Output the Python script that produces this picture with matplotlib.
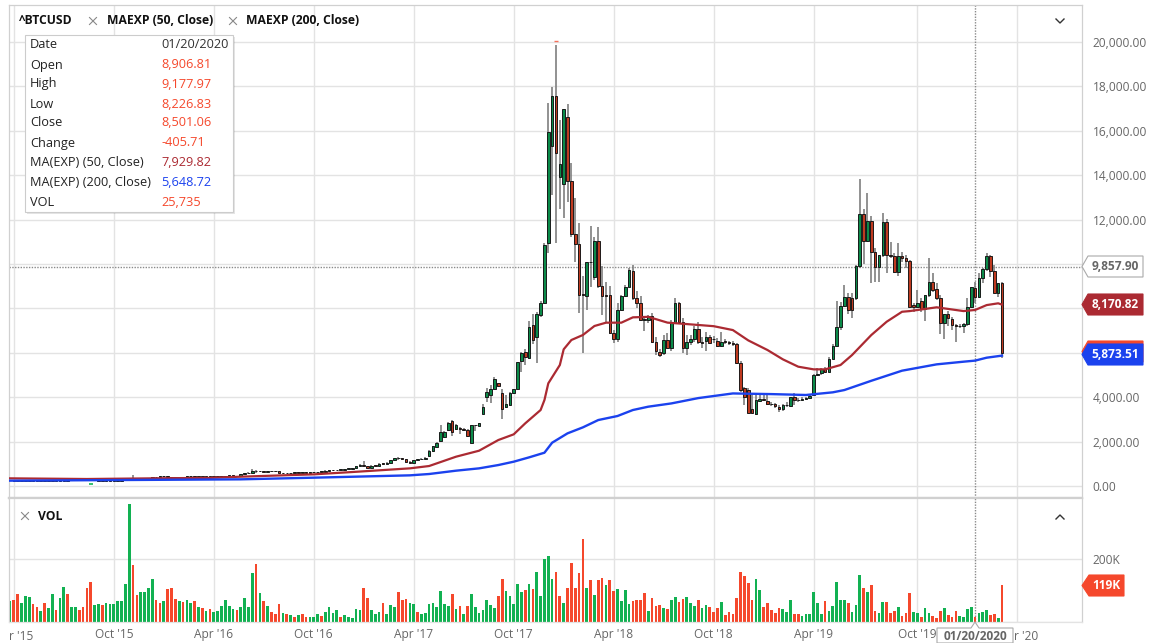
from matplotlib import pyplot as plt
from matplotlib.patches import Polygon, Rectangle
import numpy as np

plt.rcParams['font.family'] = ['Open Sans', 'DejaVu Sans']

opens = [248, 255, 235, 225, 225, 240, 236, 241, 240, 236, 236, 232, 225, 226, 236, 245, 250, 268, 288, 272,
         292, 285, 280, 265, 230, 225, 233, 230, 238, 245, 262, 290, 325, 375, 335, 325, 328, 362, 395, 415,
         435, 450, 385, 382, 390, 375, 405, 430, 438, 416, 410, 415, 415, 416, 418, 420, 425, 450, 460, 455,
         440, 525, 575, 590, 690, 660, 670, 650, 660, 665, 660, 590, 570, 585, 575, 610, 605, 610, 605, 610,
         625, 640, 650, 695, 700, 705, 735, 735, 770, 780, 790, 890, 960, 900, 820, 920, 915, 1010, 1000, 1050,
         1180, 1260,
         1240, 1200, 1095, 1035, 1170, 1200, 1230, 1366, 1560, 1770,
         2040, 2200, 2520, 2940, 2550, 2610, 2570, 2520, 1950, 2730,
         2720, 3250, 4030, 4100, 4350, 4620, 4200, 3540, 3630, 4180,
         4380, 5620, 6050, 5750, 7250, 6700, 7700, 8250, 10930, 15320,
         17580, 13900, 13600, 16640, 13740, 11350, 10900, 8660, 8570, 10100,
         9430, 11050, 9000, 8600, 8600, 6880, 6600, 7930, 8560, 8980,
         9700, 8450, 8230, 7480, 7480, 7660, 6500, 6050, 5970, 6570,
         6200, 7350, 8260, 7400, 6200, 6500, 6600, 7060, 6500, 6540,
         6690, 6600, 6540, 6300, 6540, 6500, 6450, 6400, 5550, 4400,
         4320, 3450, 3240, 3850, 3900, 3840, 3700, 3680, 3570, 3450,
         3630, 3600, 4000, 3870, 3880, 3920, 3980, 4080, 5015, 5080,
         5270, 5150, 5720, 6320, 7150, 8110, 8500, 8450, 8450, 9925,
         12240, 11050, 11940, 10530, 9850, 10390, 11910, 10400, 10360, 9650,
         10360, 10290, 10150, 8150, 8080, 8350, 7960, 8600, 9200, 8860,
         8450, 7360, 7750, 7520, 7250, 7200, 7230, 7280, 8050, 8906.81,
         8500, 9380, 9760, 10360, 9690, 8710, 9130]

highs = [262, 258, 240, 240, 245, 245, 245, 245, 245, 240, 238, 236, 232, 240, 250, 258, 272, 295, 295, 298,
         298, 290, 285, 268, 240, 240, 240, 242, 250, 268, 296, 335, 495, 380, 342, 335, 365, 398, 420, 460,
         465, 455, 395, 405, 395, 410, 440, 445, 440, 425, 420, 422, 422, 425, 428, 432, 455, 470, 470, 460,
         530, 590, 610, 780, 720, 690, 680, 675, 680, 675, 660, 600, 590, 600, 615, 615, 620, 615, 615, 630,
         645, 660, 700, 740, 715, 740, 745, 780, 785, 800, 895, 980, 1130, 905, 935, 925, 1015, 1030, 1060, 1190,
         1280, 1290,
         1250, 1210, 1120, 1190, 1220, 1250, 1290, 1610, 1820, 1970,
         2730, 2470, 2890, 2970, 2780, 2640, 2600, 2560, 2760, 2770,
         2830, 3700, 4400, 4550, 4900, 4640, 4350, 4100, 4230, 4370,
         5600, 6050, 6150, 7450, 7770, 7850, 8350, 10930, 17270, 17960,
         19870, 16490, 16970, 17200, 14530, 12960, 11830, 9460, 10100, 11720,
         11200, 11650, 9900, 9200, 9000, 7050, 8230, 8600, 9050, 9800,
         9950, 8800, 8570, 7600, 7720, 7800, 6700, 6150, 6800, 6900,
         7500, 8480, 8300, 7550, 6800, 6800, 7200, 7400, 6700, 6950,
         6800, 6750, 6680, 6950, 6600, 6550, 6550, 6450, 5620, 4450,
         4400, 4200, 4200, 4170, 4150, 4100, 3800, 3720, 3650, 3680,
         3800, 4000, 4200, 3960, 4000, 4020, 4080, 5030, 5300, 5320,
         5380, 5800, 6400, 8330, 8300, 9050, 8700, 8700, 9950, 13830,
         12460, 13185, 12150, 10700, 10400, 12310, 12050, 11000, 10500, 10960,
         10550, 10400, 10200, 8230, 8830, 8450, 8600, 10250, 9580, 9130,
         8600, 7750, 7900, 7600, 7300, 7320, 7350, 8450, 8950, 9177.97,
         9580, 9800, 10500, 10400, 9950, 9130, 9200]

lows = [240, 225, 215, 220, 222, 232, 232, 235, 232, 230, 225, 220, 222, 224, 232, 242, 248, 262, 265, 268,
        278, 270, 255, 205, 215, 222, 225, 226, 235, 242, 258, 285, 320, 300, 310, 318, 325, 358, 390, 410,
        425, 375, 370, 375, 365, 372, 400, 425, 410, 405, 405, 410, 412, 412, 415, 418, 422, 445, 440, 435,
        438, 520, 570, 585, 600, 640, 630, 645, 650, 650, 585, 560, 565, 565, 570, 595, 600, 600, 600, 605,
        622, 635, 648, 690, 695, 700, 725, 730, 765, 775, 785, 885, 890, 800, 815, 890, 905, 960, 990, 1045,
        1170, 1150,
        1150, 1050, 1020, 1030, 1170, 1190, 1220, 1355, 1550, 1760,
        2030, 2180, 2500, 2250, 2530, 2350, 2500, 2200, 1930, 2480,
        2700, 3240, 3800, 3750, 4320, 4450, 3000, 3520, 3600, 4150,
        4370, 5150, 5450, 5720, 6400, 5520, 7600, 8200, 10480, 13100,
        10960, 12500, 12070, 12800, 11200, 10100, 7780, 6000, 7930, 8980,
        9300, 8900, 7700, 7330, 6850, 6450, 6500, 7900, 8500, 8950,
        8400, 8000, 7450, 7000, 7350, 6450, 5880, 5800, 5900, 6150,
        6100, 7300, 7350, 6000, 5900, 6350, 6500, 6400, 6200, 6100,
        6400, 6450, 6250, 6250, 6400, 6350, 6300, 5500, 4250, 3650,
        3280, 3230, 3200, 3800, 3820, 3650, 3600, 3500, 3350, 3380,
        3580, 3550, 3650, 3800, 3850, 3880, 3950, 4060, 4950, 5000,
        5100, 5130, 5700, 6300, 7050, 8050, 7750, 7550, 8400, 9800,
        10000, 11000, 9130, 9200, 9200, 10300, 9580, 10250, 9580, 9460,
        10100, 9800, 8080, 7850, 8000, 7850, 7450, 8500, 8750, 8400,
        6850, 6600, 7200, 7050, 6500, 7100, 6900, 7200, 8000, 8226.83,
        8450, 9130, 9700, 9400, 8700, 8530, 5750]

closes = [255, 235, 225, 225, 240, 236, 241, 240, 236, 236, 232, 225, 226, 236, 245, 250, 268, 288, 272, 292,
          285, 280, 265, 230, 225, 233, 230, 238, 245, 262, 290, 325, 375, 335, 325, 328, 362, 395, 415, 435,
          450, 385, 382, 390, 375, 405, 430, 438, 416, 410, 415, 415, 416, 418, 420, 425, 450, 460, 455, 440,
          525, 575, 590, 690, 660, 670, 650, 660, 665, 660, 590, 570, 585, 575, 610, 605, 610, 605, 610, 625,
          640, 650, 695, 700, 705, 735, 735, 770, 780, 790, 890, 960, 900, 820, 920, 915, 1010, 1000, 1050, 1180,
          1260, 1240,
          1200, 1095, 1035, 1170, 1200, 1230, 1275, 1590, 1800, 1950,
          2430, 2430, 2820, 2450, 2730, 2560, 2540, 2250, 2730, 2750,
          2820, 3550, 4250, 4380, 4800, 4500, 3450, 3690, 4200, 4350,
          5570, 5980, 5800, 7175, 6570, 7750, 8250, 10840, 15930, 17580,
          15020, 14490, 16970, 13755, 11350, 10900, 8600, 8600, 10080, 10070,
          11050, 9000, 8560, 8560, 6880, 6600, 7930, 8560, 8980, 9730,
          8450, 8230, 7480, 7520, 7660, 6500, 6100, 5900, 6570, 6200,
          7350, 8230, 7400, 6200, 6470, 6640, 7060, 6500, 6450, 6690,
          6450, 6640, 6300, 6500, 6500, 6450, 6400, 5550, 4320, 4025,
          3300, 3270, 3870, 3900, 3870, 3700, 3680, 3600, 3450, 3630,
          3670, 4000, 3870, 3880, 3920, 3980, 4050, 5015, 5050, 5270,
          5130, 5720, 6320, 7150, 8110, 8500, 7930, 7930, 9925, 12240,
          11050, 11940, 10530, 9850, 10390, 11910, 10405, 10380, 9650, 10360,
          10260, 10150, 8080, 8080, 8230, 7960, 8600, 9200, 8830, 8450,
          7360, 7750, 7550, 7250, 7200, 7230, 7280, 8050, 8950, 8501.06,
          9380, 9760, 10360, 9690, 8710, 9130, 5990]

# volume in thousands
volumes = [66, 69, 87, 60, 81, 80, 57, 46, 35, 59, 45, 87, 38, 75, 110, 90, 47, 47, 37, 47,
           107, 126, 55, 56, 54, 60, 56, 56, 66, 67, 120, 372, 180, 85, 94, 94, 109, 137, 68, 60,
           66, 103, 108, 73, 66, 62, 68, 60, 65, 48, 43, 35, 42, 33, 36, 49, 69, 49, 41, 37,
           48, 75, 48, 156, 182, 92, 65, 50, 33, 26, 56, 29, 26, 21, 17, 22, 24, 17, 15, 15,
           24, 19, 33, 48, 27, 37, 16, 21, 17, 13, 41, 38, 106, 75, 38, 25, 32, 60, 26, 55,
           47, 95,
           69, 72, 60, 56, 32, 25, 27, 56, 60, 47, 97, 56, 52, 90, 41, 49, 26, 50, 90, 46,
           29, 38, 71, 55, 43, 81, 135, 98, 82, 56, 121, 95, 102, 119, 104, 159, 82, 199, 207, 135,
           158, 83, 61, 106, 185, 109, 155, 263, 108, 134, 84, 133, 139, 117, 134, 97, 104, 66, 101, 57,
           66, 71, 69, 92, 36, 76, 51, 55, 43, 41, 69, 80, 63, 73, 79, 59, 51, 69, 44, 55,
           47, 32, 43, 62, 21, 31, 26, 76, 157, 145, 122, 71, 135, 101, 47, 60, 37, 29, 44, 40,
           31, 68, 26, 25,
           20, 26, 24, 95, 59, 26, 65, 36, 50, 126, 70, 68, 59, 33, 54, 149, 106, 94, 116, 35,
           30, 64, 62, 27, 35, 47, 20, 30, 92, 33, 27, 17, 43, 30, 19, 13, 35, 43, 22, 16,
           35, 18, 16, 40, 46, 17, 30, 32, 39, 22, 24, 14, 117]

# g = up week, r = down week
vol_dirs = ("grrgggrrgr" "ggrggrggrr" "rrggrggggg" "ggrrggggrr" "grrrgrggrg"
            "rgrggggggr" "ggggrgrgrr" "rgrgrgrrgg" "grggggrggg" "ggrrgggrgg" "gr"
            "rrggrggggg" "gggrgrgrgg" "gggggrrggg" "ggrgrggggg" "rrgrrrrrgr"
            "grrgrrgggg" "rrrrgrrrgr" "ggrrgggrgg" "rrrgrrrrrr" "rrggrrrrrg"
            "ggrrgggggg" "rgggggrggg" "rgrrggrrrg" "rrrggrggrr" "rgrrrggggr" "gggrrgr")

ma50_weeks = [0, 20, 40, 52, 60, 79, 90, 104, 109, 116, 122, 127, 131, 134, 138, 139, 140, 143, 144, 146, 149,
              152, 155, 159, 162, 166, 171, 176, 183, 188, 192, 197, 201, 205, 209, 212, 216, 219, 224, 228, 232,
              234, 241, 248, 251, 254, 257, 258]
ma50 = [345, 315, 350, 365, 420, 525, 640, 795, 900, 1320, 1590, 2071, 2327, 2822, 3423, 3874, 4625, 5450, 6157, 6577, 6803,
        7208, 7358, 7358, 7598, 7620, 7360, 7295, 7200, 7025, 6560, 6126, 5706, 5375, 5255, 5255, 5450, 5900, 6800, 7400, 7850,
        7880, 8050, 7880, 7929.82, 8150, 8230, 8170.82]

ma200_weeks = [0, 30, 60, 79, 104, 109, 116, 122, 127, 131, 135, 139, 141, 145, 149, 153, 158, 162, 166, 172, 179, 188,
               198, 207, 214, 217, 224, 232, 241, 248, 251, 254, 258]
ma200 = [240, 270, 300, 375, 480, 540, 690, 795, 944, 1095, 1290, 1500, 1951, 2372, 2642, 2972, 3153, 3423, 3573, 3720, 3960, 4170,
         4140, 4100, 4220, 4323, 4740, 5195, 5480, 5600, 5648.72, 5780, 5873.51]

tick_weeks = [1, 27, 53, 79, 105, 131, 157, 183, 209, 236, 262]
tick_labels = ['', "Oct '15", "Apr '16", "Oct '16", "Apr '17", "Oct '17", "Apr '18", "Oct '18", "Apr '19",
               "Oct '19", '']
price_ticks = list(range(0, 20001, 2000))
# these three sit behind the price flags in the original
hidden_prices = [6000, 8000, 10000]

cross_week = 251
cross_price = 9857.90
high_mark_week = 142
high_mark = 20050
low_mark_week = 21
low_mark = 68

colors = {'up': '#0b8a49', 'down': '#bf3a20', 'vol_up': '#12b152', 'vol_down': '#f5482c', 'grid': '#e3e3e3',
          'wick': '#7a7a7a', 'ma50': '#ab2a32', 'ma200': '#1b42ee', 'tick': '#666666', 'frame': '#d0d0d0'}

W, H = 1150, 643
fig = plt.figure(figsize=(W / 100, H / 100), dpi=100, facecolor='white')
# pixels per week 3.845, first bar at x=10
xlim = ((9 - 10) / 3.845, (1081.5 - 10) / 3.845)


def pane(top, bottom):
    return fig.add_axes([9 / W, 1 - bottom / H, 1072.5 / W, (bottom - top) / H])


ax = pane(5, 498)
ax_vol = pane(498, 622)
ax.set_ylim((486 - 498) * 45.05, (486 - 5) * 45.05)
ax_vol.set_ylim(0, 124 * 3.16)

for a in (ax, ax_vol):
    a.set_xlim(*xlim)
    a.set_xticks(tick_weeks)
    a.yaxis.tick_right()
    a.tick_params(length=0, colors=colors['tick'], labelsize=8.6, pad=8)
    a.grid(True, color=colors['grid'], linewidth=1.0, zorder=0)
    a.set_axisbelow(True)
    a.axvline(cross_week, color='#8a8a8a', linewidth=1, linestyle=(0, (1, 1)), zorder=1)
    for side in a.spines:
        a.spines[side].set_color(colors['frame'])
        a.spines[side].set_linewidth(0.9)
ax.spines['bottom'].set_linewidth(1.6)
ax_vol.spines['top'].set_linewidth(1.6)
ax_vol.spines['bottom'].set_color(colors['grid'])

ax.set_xticklabels([])
ax.set_yticks(price_ticks)
ax.set_yticklabels(['' if v in hidden_prices else f'{v:,.2f}' for v in price_ticks])
ax_vol.set_xticklabels(tick_labels)
ax_vol.tick_params(axis='x', pad=4.5)
ax_vol.set_yticks([0, 200])
ax_vol.set_yticklabels(['', '200K'])

ax.axhline(cross_price, color='#8a8a8a', linewidth=1, linestyle=(0, (1, 1)), zorder=1)

weeks = np.arange(len(closes))
o, h, l, c = np.array(opens), np.array(highs), np.array(lows), np.array(closes)
body_bottom = np.minimum(o, c)
body_height = np.maximum(np.abs(c - o), 25)
body_colors = [colors['up'] if cl >= op else colors['down'] for op, cl in zip(o, c)]

ax.vlines(weeks, l, h, color=colors['wick'], linewidth=1.15, zorder=2)
ax.bar(weeks, body_height, bottom=body_bottom, width=0.68, color=body_colors, edgecolor='#111111',
       linewidth=0.65, zorder=2.5)
ax.plot([high_mark_week], [high_mark], marker='_', markersize=3, color='#f5705a', zorder=2)
ax.plot([low_mark_week], [low_mark], marker='_', markersize=3.5, markeredgewidth=1.4, color='#35c070', zorder=2)

ax.plot(ma50_weeks, ma50, color=colors['ma50'], linewidth=1.6, solid_joinstyle='round', zorder=3)
ax.plot(ma200_weeks, ma200, color=colors['ma200'], linewidth=1.7, solid_joinstyle='round', zorder=3)

vol_colors = [colors['vol_up'] if d == 'g' else colors['vol_down'] for d in vol_dirs]
ax_vol.bar(weeks, volumes, width=0.7, color=vol_colors, linewidth=0, zorder=2)

# chrome on top, in pixel coordinates
top = fig.add_axes([0, 0, 1, 1], facecolor='none', zorder=10)
top.set_xlim(0, W)
top.set_ylim(H, 0)
top.axis('off')


def tag(x0, x1, y0, y1, face, edge, text, text_color):
    mid = (y0 + y1) / 2
    pts = [(1082, mid), (x0, y0), (x1, y0), (x1, y1), (x0, y1)]
    top.add_patch(Polygon(pts, closed=True, facecolor=face, edgecolor=edge, linewidth=0.8))
    if text:
        top.text(x0 + 3.5, mid, text, color=text_color, fontsize=8.6, fontweight='bold', va='center', ha='left')


tag(1088, 1143, 256, 277, 'white', '#aaaaaa', f'{cross_price:,.2f}', '#666666')
tag(1088, 1143, 294, 315, colors['ma50'], colors['ma50'], '8,170.82', 'white')
tag(1088, 1143, 341, 362, '#f5482c', '#f5482c', '', 'white')
tag(1088, 1143, 344, 365, colors['ma200'], colors['ma200'], '5,873.51', 'white')
tag(1089, 1124, 575, 596, '#f5482c', '#f5482c', '119K', 'white')

# date flag under the crosshair
top.add_patch(Polygon([(937, 628), (971, 628), (975, 622), (979, 628), (1013, 628), (1013, 643), (937, 643)],
                      closed=True, facecolor='white', edgecolor='#aaaaaa', linewidth=0.8))
top.text(975, 636.5, '01/20/2020', color='#666666', fontsize=8.6, fontweight='bold', ha='center', va='center')

# the first and last axis labels show only their tails in the original
top.text(9, 636, "r '15", color=colors['tick'], fontsize=8.6, ha='left', va='center')
top.text(1014, 636, "r '20", color=colors['tick'], fontsize=8.6, ha='left', va='center')

# legend row
for x, y, s in [(19, 21, '^BTCUSD'), (107, 21, 'MAEXP (50, Close)'), (246, 21, 'MAEXP (200, Close)'), (38, 516, 'VOL')]:
    top.text(x, y, s, fontsize=8.7, fontweight='bold', color='#111111', va='center', ha='left')
for x, y in [(93, 21), (233, 21), (25, 516)]:
    top.plot([x - 3.5, x + 3.5], [y - 3.5, y + 3.5], color='#888888', linewidth=0.8)
    top.plot([x - 3.5, x + 3.5], [y + 3.5, y - 3.5], color='#888888', linewidth=0.8)
top.plot([1056, 1060, 1064], [19, 23, 19], color='#333333', linewidth=1)
top.plot([1056, 1060, 1064], [519, 515, 519], color='#333333', linewidth=1)

# hover box
top.add_patch(Rectangle((27, 37), 208, 177, facecolor='#000000', alpha=0.10, linewidth=0))
top.add_patch(Rectangle((25, 35), 208, 177, facecolor='white', edgecolor='#cccccc', linewidth=0.8))
hover_rows = ['Date', 'Open', 'High', 'Low', 'Close', 'Change', 'MA(EXP) (50, Close)', 'MA(EXP) (200, Close)', 'VOL']
hover_vals = ['01/20/2020', '8,906.81', '9,177.97', '8,226.83', '8,501.06', '-405.71', '7,929.82', '5,648.72', '25,735']
hover_cols = ['#333333', '#f5482c', '#f5482c', '#f5482c', '#f5482c', '#f5482c', colors['ma50'], colors['ma200'], '#f5482c']
hover_y = [45, 65, 84, 104, 123, 143, 163, 182, 202]
for y, row, val, col in zip(hover_y, hover_rows, hover_vals, hover_cols):
    top.text(30, y, row, fontsize=9.2, color='#222222', va='center', ha='left')
    top.text(161.5, y, val, fontsize=9.2, color=col, va='center', ha='left')

fig.savefig('out.png', dpi=100)
